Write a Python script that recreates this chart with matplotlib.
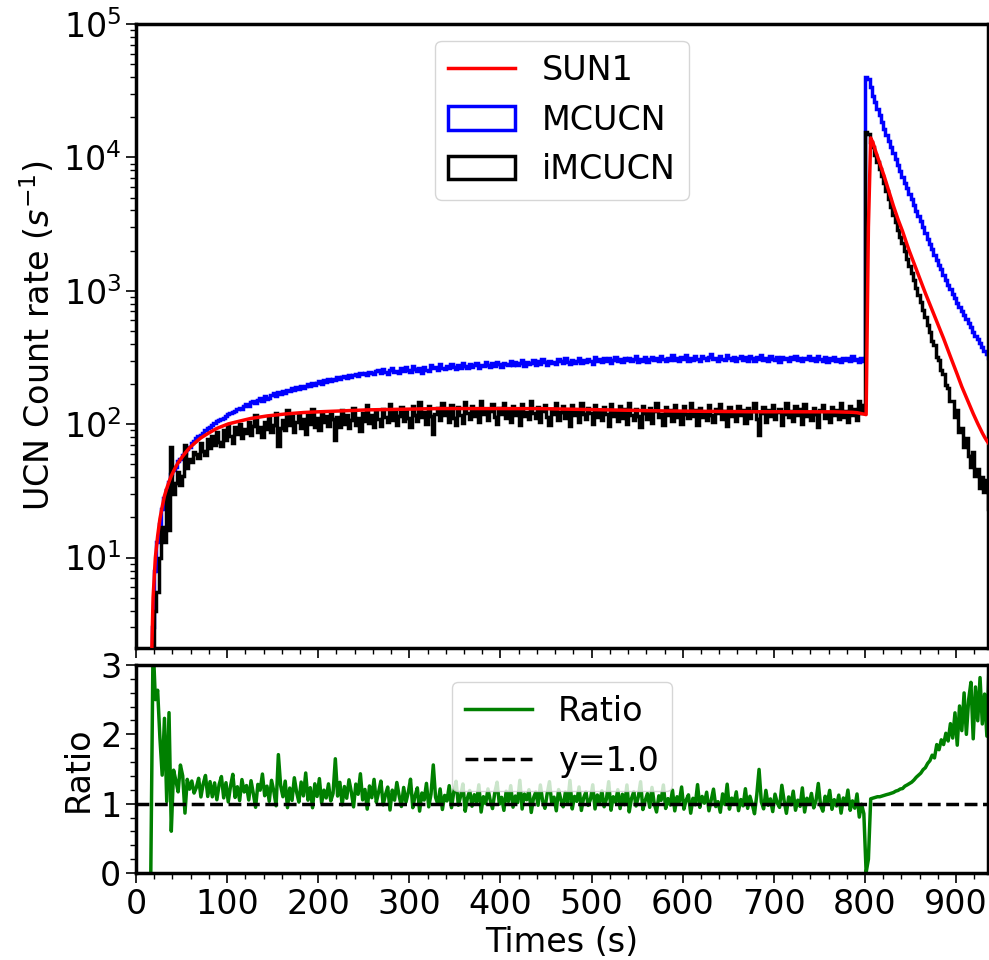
import numpy as np
import matplotlib
matplotlib.use("Agg")
import matplotlib.pyplot as plt
from matplotlib.ticker import MultipleLocator

plt.rcParams["font.size"] = 24

# 2.5 s time bins, 15 s .. 940 s
bin_edges = np.arange(15, 940.1, 2.5)
bin_centers = 0.5 * (bin_edges[:-1] + bin_edges[1:])

# SUN1 simulation (smooth curve), counts/s at bin centres
sun1 = (
    [1, 5, 10, 14.5, 19.5, 24, 29, 33, 37, 41,
     44.5, 48, 51.5, 54.5, 57.5, 60.5, 63.5, 66.5, 69, 71.5,
     74, 76.5, 79, 81, 83, 85, 87, 89, 91, 93,
     94.5, 96, 97.5, 99, 100.5, 101.5, 102.5, 103.5, 104.5, 105.5,
     106.5, 107.5, 108.5, 109.5, 110.5, 111.2, 111.8, 112.5, 113.5, 114.2,
     114.8, 115.3, 115.8, 116.3, 116.8, 117.3, 117.8, 118.3, 118.8, 119.3,
     119.7, 120.1, 120.5, 120.9, 121.3, 121.7, 122.0, 122.3, 122.6, 122.9,
     123.1, 123.3, 123.5, 123.7, 123.9, 124.1, 124.3, 124.5, 124.7, 124.9,
     125.0, 125.2, 125.4, 125.6, 125.8, 126.0, 126.2, 126.4, 126.6, 126.8,
     127.0, 127.2, 127.4, 127.6, 127.8, 128.0, 128.1, 128.2, 128.3, 128.4,
     128.5, 128.6, 128.7, 128.8, 128.9, 129.0, 129.1, 129.2, 129.3, 129.4,
     129.5, 129.6, 129.7, 129.8, 129.9, 130.0, 130.1, 130.2, 130.3, 130.4,
     130.5, 130.6, 130.7, 130.8, 130.9, 131, 131, 131, 131, 131]
    + [131] * 40
    + [130.9, 130.8, 130.7, 130.6, 130.5, 130.4, 130.3, 130.2, 130.1, 130.0,
       129.9, 129.8, 129.7, 129.6, 129.5, 129.4, 129.3, 129.2, 129.1, 129.0,
       128.9, 128.8, 128.7, 128.6, 128.5, 128.4, 128.3, 128.2, 128.1, 128.0,
       127.9, 127.8, 127.7, 127.6, 127.5, 127.4, 127.3, 127.2, 127.1, 127.0,
       126.9, 126.8, 126.7, 126.6, 126.5, 126.4, 126.3, 126.2, 126.1, 126.0,
       125.95, 125.9, 125.85, 125.8, 125.75, 125.7, 125.65, 125.6, 125.55, 125.5,
       125.45, 125.4, 125.35, 125.3, 125.25, 125.2, 125.15, 125.1, 125.05, 125.0,
       124.95, 124.9, 124.85, 124.8, 124.75, 124.7, 124.65, 124.6, 124.55, 124.5,
       124.45, 124.4, 124.35, 124.3, 124.25, 124.2, 124.15, 124.1, 124.05, 124.0]
    + [124.0] * 40
    + [123.8, 123.7, 123.6, 123.5, 123.4, 123.3, 123.2, 123.0, 122.8, 122.5,
       122.0, 121.0, 120.0, 119.0,
       118, 3000,
       14000, 12900, 11350, 10100, 9020, 8040, 7160, 6310, 5560, 4900,
       4320, 3850, 3430, 3090, 2790, 2480, 2210, 1980, 1790, 1610,
       1450, 1310, 1180, 1064, 960, 871, 794, 719, 649, 589,
       537, 486, 439, 395, 356, 321, 290, 261, 236, 212,
       191, 174, 158, 145, 132, 120, 110, 101, 93, 86,
       80, 75, 71, 67]
)

# MCUCN histogram
mcucn = [
    0, 3, 8, 13, 18, 23, 28, 32, 37, 42,
    45, 48, 53, 55, 59, 61, 65, 68, 72, 75,
    79, 81, 83, 86, 90, 93, 95, 98, 102, 105,
    108, 110, 111, 115, 119, 121, 123, 126, 130, 132,
    130, 138, 141, 136, 147, 150, 144, 153, 157, 150,
    162, 155, 158, 166, 170, 163, 174, 168, 177, 172,
    181, 176, 186, 180, 190, 184, 195, 187, 192, 199,
    194, 205, 198, 203, 210, 201, 213, 207, 218, 212,
    220, 214, 227, 219, 224, 231, 222, 235, 226, 232,
    238, 229, 244, 236, 241, 233, 248, 240, 237, 250,
    254, 243, 261, 248, 239, 257, 265, 247, 252, 241,
    263, 250, 268, 255, 246, 272, 259, 251, 266, 244,
    270, 257, 251, 276, 262, 268, 254, 281, 265, 259,
    275, 262, 284, 270, 258, 279, 266, 288, 271, 263,
    283, 268, 277, 290, 265, 280, 272, 293, 276, 267,
    287, 273, 295, 281, 270, 290, 284, 276, 299, 279,
    292, 278, 286, 301, 275, 294, 283, 289, 304, 280,
    297, 283, 309, 291, 279, 300, 288, 295, 282, 306,
    299, 287, 312, 294, 283, 305, 290, 298, 315, 286,
    303, 291, 310, 296, 285, 318, 299, 306, 292, 313,
    296, 311, 288, 305, 320, 298, 309, 293, 316, 302,
    314, 297, 307, 323, 295, 310, 300, 318, 293, 306,
    319, 301, 311, 296, 325, 307, 299, 316, 304, 328,
    302, 315, 298, 321, 309, 331, 300, 312, 305, 324,
    310, 297, 327, 314, 303, 318, 335, 306, 315, 299,
    322, 309, 301, 329, 313, 304, 319, 297, 316, 326,
    305, 318, 300, 323, 311, 296, 320, 308, 330, 303,
    314, 299, 325, 310, 302, 317, 295, 321, 307, 312,
    298, 319, 306, 327, 301, 313, 296, 316, 309, 322,
    303, 311, 297, 324, 308, 300, 318, 294, 313, 305,
    320, 299, 310, 293, 316, 304, 311, 297, 322, 301,
    308, 295, 314, 300,
    40000, 38500,
    33900, 28800, 26000, 23200, 20700, 18400, 16400, 14600, 13200, 11900,
    10700, 9660, 8710, 7850, 7080, 6460, 5890, 5350, 4840, 4370,
    3980, 3630, 3310, 3010, 2710, 2450, 2240, 2040, 1860, 1710,
    1570, 1450, 1320, 1210, 1110, 1030, 948, 881, 813, 755,
    700, 653, 610, 569, 531, 495, 462, 434, 407, 380,
    356, 334, 313, 293,
]

# iMCUCN histogram
imcucn = [
    0, 1.5, 4, 5.5, 10, 17, 13, 32, 16, 68,
    30, 36, 44, 35, 41, 70, 47, 55, 52, 62,
    60, 56, 72, 63, 59, 77, 66, 81, 70, 88,
    74, 69, 90, 76, 98, 81, 72, 95, 84, 101,
    79, 92, 86, 104, 83, 97, 118, 88, 95, 80,
    103, 92, 112, 87, 99, 121, 69, 94, 108, 90,
    127, 98, 115, 88, 104, 119, 93, 110, 85, 117,
    100, 131, 96, 112, 91, 123, 104, 115, 97, 120,
    109, 76, 113, 96, 128, 101, 117, 94, 108, 133,
    99, 112, 89, 121, 106, 139, 102, 118, 95, 126,
    110, 97, 131, 114, 104, 142, 108, 123, 99, 116,
    135, 105, 127, 112, 96, 138, 117, 106, 146, 113,
    124, 101, 137, 115, 84, 120, 132, 108, 143, 117,
    126, 104, 139, 112, 99, 134, 118, 102, 147, 121,
    110, 136, 116, 128, 103, 149, 119, 131, 108, 125,
    141, 113, 100, 132, 120, 145, 111, 127, 104, 138,
    118, 129, 98, 142, 115, 124, 109, 150, 121, 112,
    134, 103, 126, 140, 114, 99, 131, 119, 145, 108,
    123, 136, 111, 128, 97, 140, 117, 125, 104, 143,
    119, 110, 132, 121, 101, 139, 114, 127, 108, 134,
    120, 97, 141, 116, 125, 106, 137, 112, 129, 100,
    144, 118, 108, 131, 115, 96, 138, 121, 110, 133,
    102, 126, 143, 113, 120, 99, 135, 117, 128, 105,
    140, 114, 122, 101, 136, 119, 111, 145, 116, 127,
    98, 132, 113, 124, 107, 139, 118, 103, 130, 121,
    142, 109, 126, 97, 135, 115, 124, 106, 138, 117,
    128, 102, 133, 112, 125, 145, 110, 83, 121, 134,
    104, 127, 116, 140, 109, 123, 131, 98, 119, 144,
    113, 126, 105, 137, 118, 129, 101, 141, 115, 124,
    108, 132, 119, 96, 127, 139, 112, 122, 104, 135,
    117, 128, 110, 143, 114, 125, 103, 136, 118, 131,
    107, 150, 121, 139,
    15600, 15000,
    13080, 11940, 10410, 9180, 8200, 7240, 6390, 5580, 4880, 4260,
    3720, 3260, 2880, 2550, 2290, 1980, 1740, 1535, 1366, 1200,
    1050, 929, 819, 714, 632, 551, 490, 423, 391, 318,
    302, 253, 237, 196, 187, 149, 149, 113, 128, 88,
    93, 67, 79, 58, 48, 62, 41, 46, 33, 40,
    31, 38, 23, 29,
]

sun1 = np.array(sun1, dtype=float)
mcucn = np.array(mcucn, dtype=float)
imcucn = np.array(imcucn, dtype=float)
assert len(sun1) == len(mcucn) == len(imcucn) == len(bin_centers), (
    len(sun1), len(mcucn), len(imcucn), len(bin_centers))

ratio = np.divide(sun1, imcucn, out=np.zeros_like(sun1), where=imcucn > 0)

fig = plt.figure(figsize=(9.89, 9.6), dpi=100)
ax1 = fig.add_axes([0.1375, 0.325, 0.8615, 0.65])
ax2 = fig.add_axes([0.1375, 0.0906, 0.8615, 0.2167], sharex=ax1)

ax1.plot(bin_centers, sun1, color="red", lw=2.5, label="SUN1", zorder=3)
ax1.hist(bin_centers, bins=bin_edges, weights=mcucn, histtype="step",
         color="blue", lw=2.5, label="MCUCN")
ax1.hist(bin_centers, bins=bin_edges, weights=imcucn, histtype="step",
         color="black", lw=2.5, label="iMCUCN")
ax1.set_yscale("log")
ax1.set_ylim(2.1, 1e5)
ax1.set_ylabel("UCN Count rate ($s^{-1}$)")
ax1.legend(loc="upper center")
ax1.tick_params(labelbottom=False)

ax2.plot(bin_centers, ratio, color="green", lw=2.5, label="Ratio")
ax2.axhline(1.0, color="black", ls="--", lw=2.5, label="y=1.0", zorder=3)
ax2.set_ylim(0, 3)
ax2.set_xlim(0, 935)
ax2.set_ylabel("Ratio")
ax2.set_xlabel("Times (s)")
ax2.legend(loc="upper center")
ax2.xaxis.set_major_locator(MultipleLocator(100))
ax2.xaxis.set_minor_locator(MultipleLocator(20))
ax2.yaxis.set_major_locator(MultipleLocator(1))
ax2.yaxis.set_minor_locator(MultipleLocator(0.2))

for ax in (ax1, ax2):
    ax.tick_params(which="major", length=7, width=1.2)
    ax.tick_params(which="minor", length=4, width=1)
    for s in ax.spines.values():
        s.set_linewidth(2.5)

fig.savefig("out.png", dpi=100)
